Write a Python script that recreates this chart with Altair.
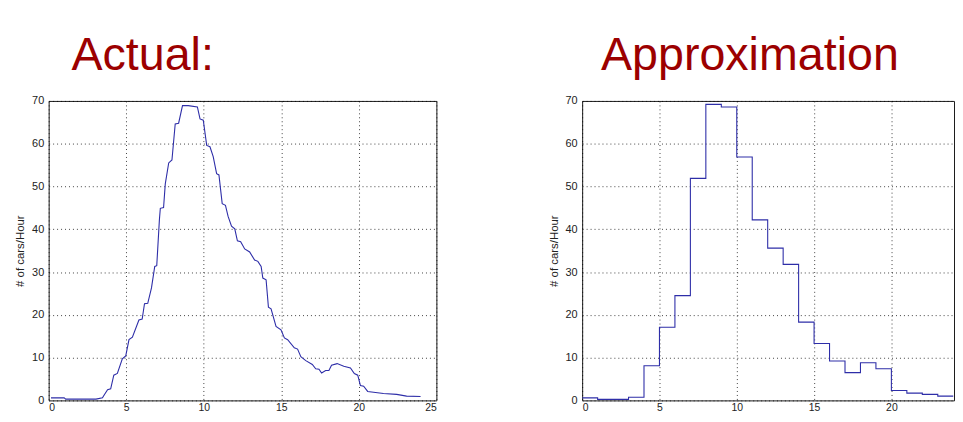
import altair as alt
import pandas as pd

# ---- Data ----
actual_hour = [0.15, 1.0, 1.1, 3.05, 3.47, 3.6, 3.8, 4.0, 4.2, 4.43, 4.75, 4.97, 5.18, 5.4,
               5.82, 6.03, 6.18, 6.39, 6.63, 6.84, 6.97, 7.14, 7.2, 7.41, 7.52, 7.74, 7.95,
               8.16, 8.38, 8.63, 9.0, 9.59, 9.76, 9.97, 10.19, 10.4, 10.61, 10.83, 10.98,
               11.19, 11.4, 11.57, 11.79, 12.0, 12.17, 12.38, 12.64, 12.96, 13.28, 13.49,
               13.7, 13.81, 14.02, 14.17, 14.34, 14.66, 14.98, 15.2, 15.41, 15.84, 16.05,
               16.26, 16.58, 17.0, 17.22, 17.43, 17.6, 17.86, 18.07, 18.24, 18.6, 19.03,
               19.46, 19.71, 19.93, 20.1, 20.31, 20.57, 20.95, 21.59, 22.44, 23.08, 23.98]
actual_cars = [0.6, 0.6, 0.3, 0.3, 0.6, 1.4, 2.5, 2.7, 5.9, 6.3, 9.7, 10.4, 14.2, 14.8,
               18.8, 19.0, 22.6, 22.7, 26.3, 31.3, 31.5, 42.2, 44.9, 45.1, 50.6, 55.5, 56.2,
               64.6, 64.8, 68.9, 68.9, 68.6, 65.8, 65.5, 59.6, 59.3, 57.0, 53.0, 52.7,
               46.0, 45.6, 43.0, 40.7, 40.1, 37.3, 37.1, 35.4, 34.7, 32.8, 32.5,
               31.3, 28.6, 28.2, 21.8, 21.4, 17.3, 16.5, 14.6, 14.2, 12.3, 12.0,
               10.2, 9.3, 8.4, 7.4, 7.3, 6.4, 7.0, 7.0, 8.2, 8.6, 8.0,
               7.6, 6.3, 5.9, 3.5, 3.3, 2.1, 1.9, 1.6, 1.4, 1.0, 0.9]

approx_hour = list(range(25))
approx_cars = [0.6, 0.25, 0.25, 0.75, 8.1, 17.1, 24.5, 51.9, 69.2, 68.6, 56.9, 42.2,
               35.6, 31.8, 18.3, 13.3, 9.2, 6.5, 8.8, 7.4, 2.3, 1.7, 1.4, 1.0, 1.0]

x_ticks_left = [0, 5, 10, 15, 20, 25]
x_ticks_right = [0, 5, 10, 15, 20]
y_ticks = [0, 10, 20, 30, 40, 50, 60, 70]
titles = ["Actual:", "Approximation"]
y_title = "# of cars/Hour"

LINE = "#2E2EA8"
TITLE_RED = "#9C0000"
FONT = "Liberation Sans"


def panel(df, title, interp, dx, x_max, x_ticks, width):
    return (
        alt.Chart(df)
        .mark_line(color=LINE, strokeWidth=1.1, interpolate=interp, clip=True)
        .encode(
            x=alt.X("hour:Q",
                    scale=alt.Scale(domain=[0, x_max], nice=False, zero=False),
                    axis=alt.Axis(values=x_ticks, title=None, grid=True)),
            y=alt.Y("cars:Q",
                    scale=alt.Scale(domain=[0, 70], nice=False, zero=False),
                    axis=alt.Axis(values=y_ticks, title=y_title, grid=True)),
        )
        .properties(
            width=width, height=302,
            title=alt.TitleParams(title, anchor="start", dx=dx, fontSize=47,
                                  font=FONT, fontWeight="normal", color=TITLE_RED,
                                  baseline="top", offset=15, frame="group"),
        )
    )


df_actual = pd.DataFrame({"hour": actual_hour, "cars": actual_cars})
df_approx = pd.DataFrame({"hour": approx_hour, "cars": approx_cars})

left = panel(df_actual, titles[0], "linear", 23, 25, x_ticks_left, 391)
right = panel(df_approx, titles[1], "step-after", 19, 24.05, x_ticks_right, 375)

chart = (
    alt.hconcat(left, right, spacing=111)
    .properties(padding={"left": 6, "top": 22, "right": 0, "bottom": 0})
    .configure_view(stroke="#1A1A1A", strokeWidth=1)
    .configure_axis(
        labelFont=FONT, labelFontSize=11, labelColor="#222222",
        titleFont=FONT, titleFontSize=11.5, titleFontWeight="normal", titleColor="#222222",
        titlePadding=6,
        domain=False, ticks=False, labelPadding=5,
        gridColor="#000000", gridOpacity=0.75, gridDash=[1, 3], gridWidth=1,
    )
    .configure_axisX(labelPadding=2, labelFontSize=10.5)
)

chart.save("out.html", embed_options={"renderer": "svg", "actions": False})
